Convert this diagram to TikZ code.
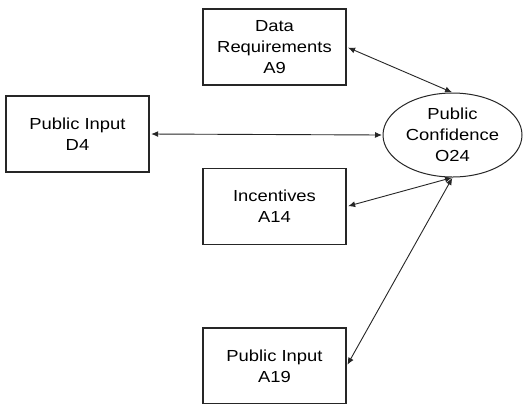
\documentclass[tikz,border=0pt]{standalone}
\usepackage{fontspec}
\setmainfont{Liberation Sans}[FakeStretch=1.15]
\usetikzlibrary{shapes.geometric,arrows.meta}
\begin{document}
\begin{tikzpicture}[x=1bp,y=-1bp,
  box/.style={draw=black!85,line width=1.4bp,minimum width=143bp,minimum height=76bp,inner sep=0pt,align=center,
    font=\fontsize{16bp}{21bp}\selectfont},
  oval/.style={draw=black!85,ellipse,line width=1bp,minimum width=139bp,minimum height=84bp,inner sep=0pt,align=center,
    font=\fontsize{16bp}{21bp}\selectfont},
  link/.style={{Latex[length=7bp,width=6bp]}-{Latex[length=7bp,width=6bp]},line width=0.9bp,black!85,shorten <=1.5bp,shorten >=0.5bp}]
\clip (0,0) rectangle (524,403);
\fill[white] (0,0) rectangle (524,403);
\node[box] (dr) at (274.5,47) {Data\\Requirements\\A9};
\node[box] (d4) at (77.5,134) {Public Input\\D4};
\node[oval] (pc) at (452.5,135) {Public\\Confidence\\O24};
\node[box] (inc) at (274.5,206.5) {Incentives\\A14};
\node[box] (a19) at (274.5,366) {Public Input\\A19};
\draw[link] (dr.east) -- (pc.north);
\draw[link] (d4.east) -- (pc.west);
\draw[link] (inc.east) -- (pc.south);
\draw[link] (a19.east) -- (pc.south);
\end{tikzpicture}
\end{document}
